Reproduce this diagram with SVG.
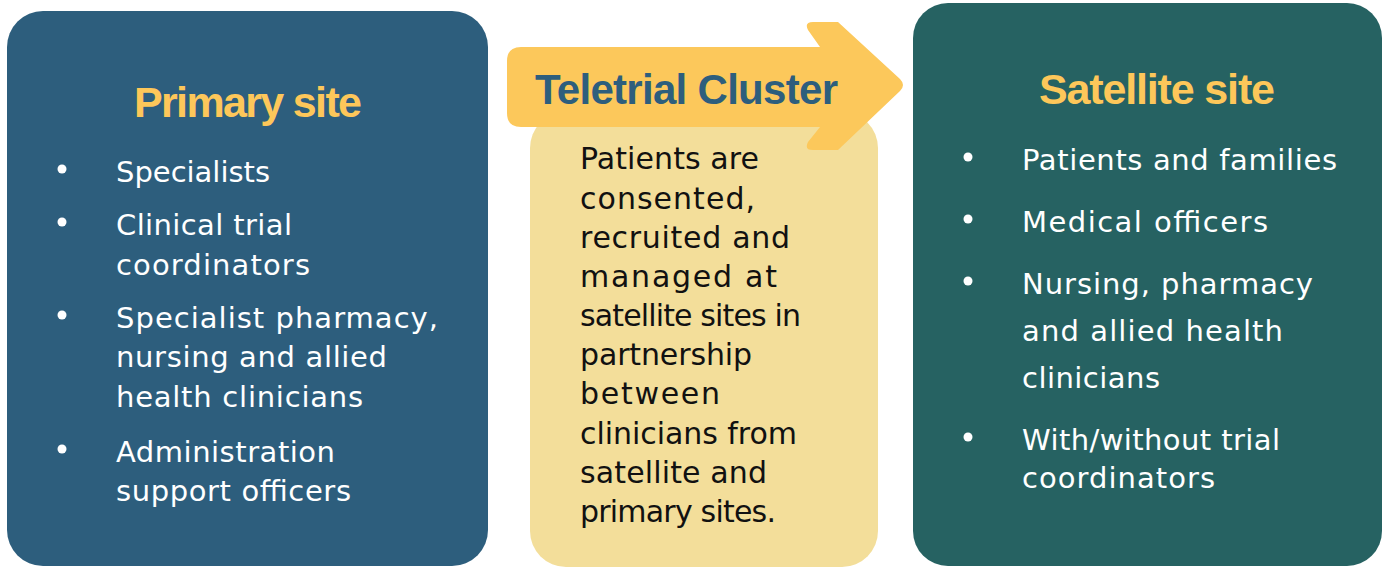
<svg xmlns="http://www.w3.org/2000/svg" width="1387" height="567" viewBox="0 0 1387 567">
  <style>
    .title { font-family: "Liberation Sans", Arial, sans-serif; font-weight: bold; font-size: 43px; fill: #FDC75A; }
    .ctitle { font-family: "Liberation Sans", Arial, sans-serif; font-weight: bold; font-size: 42px; fill: #2D5E7D; }
    .item { font-family: "DejaVu Sans", sans-serif; font-size: 29px; fill: #FFFFFF; }
    .body { font-family: "DejaVu Sans", sans-serif; font-size: 30px; fill: #111111; }
    .bullet { fill: #FFFFFF; }
  </style>
  <rect width="1387" height="567" fill="#FFFFFF"/>

  <g id="primary-site">
    <rect x="7" y="11" width="481" height="555" rx="36" ry="36" fill="#2D5E7D"/>
    <text class="title" x="134" y="117" textLength="228">Primary site</text>
    <circle class="bullet" cx="62" cy="169" r="4.5"/>
    <text class="item" x="116" y="182" textLength="154">Specialists</text>
    <circle class="bullet" cx="62" cy="222" r="4.5"/>
    <text class="item" x="116" y="235" textLength="176">Clinical trial</text>
    <text class="item" x="116" y="275" textLength="194">coordinators</text>
    <circle class="bullet" cx="62" cy="315" r="4.5"/>
    <text class="item" x="116" y="328" textLength="322">Specialist pharmacy,</text>
    <text class="item" x="116" y="367" textLength="271">nursing and allied</text>
    <text class="item" x="116" y="407" textLength="247">health clinicians</text>
    <circle class="bullet" cx="62" cy="449" r="4.5"/>
    <text class="item" x="116" y="462" textLength="219">Administration</text>
    <text class="item" x="116" y="501" textLength="235">support officers</text>
  </g>

  <g id="satellite-site">
    <rect x="913" y="3" width="469" height="563" rx="35" ry="35" fill="#266262"/>
    <text class="title" x="1039" y="104" textLength="236">Satellite site</text>
    <circle class="bullet" cx="968" cy="157" r="4.5"/>
    <text class="item" x="1022" y="170" textLength="315">Patients and families</text>
    <circle class="bullet" cx="968" cy="219" r="4.5"/>
    <text class="item" x="1022" y="232" textLength="246">Medical officers</text>
    <circle class="bullet" cx="968" cy="281" r="4.5"/>
    <text class="item" x="1022" y="294" textLength="291">Nursing, pharmacy</text>
    <text class="item" x="1022" y="341" textLength="261">and allied health</text>
    <text class="item" x="1022" y="388" textLength="138">clinicians</text>
    <circle class="bullet" cx="968" cy="437" r="4.5"/>
    <text class="item" x="1022" y="450" textLength="258">With/without trial</text>
    <text class="item" x="1022" y="488" textLength="193">coordinators</text>
  </g>

  <g id="teletrial-cluster">
    <rect x="530" y="112" width="348" height="455" rx="36" ry="36" fill="#F3DE9A"/>
    <path d="M 521 47 H 820 L 808 30 Q 804 22 813 22 H 838 L 900 79 Q 906 85 900 91 L 838 150 H 813 Q 804 150 808 142 L 820 127 H 521 Q 507 127 507 113 V 61 Q 507 47 521 47 Z" fill="#FCC85B"/>
    <text class="ctitle" x="535" y="104" textLength="303">Teletrial Cluster</text>
    <text class="body" x="580" y="169" textLength="179">Patients are</text>
    <text class="body" x="580" y="209" textLength="175">consented,</text>
    <text class="body" x="580" y="248" textLength="210">recruited and</text>
    <text class="body" x="580" y="287" textLength="197">managed at</text>
    <text class="body" x="580" y="326" textLength="221">satellite sites in</text>
    <text class="body" x="580" y="365" textLength="172">partnership</text>
    <text class="body" x="580" y="404" textLength="140">between</text>
    <text class="body" x="580" y="444" textLength="217">clinicians from</text>
    <text class="body" x="580" y="483" textLength="187">satellite and</text>
    <text class="body" x="580" y="522" textLength="196">primary sites.</text>
  </g>

  <g id="connectors"></g>
</svg>
